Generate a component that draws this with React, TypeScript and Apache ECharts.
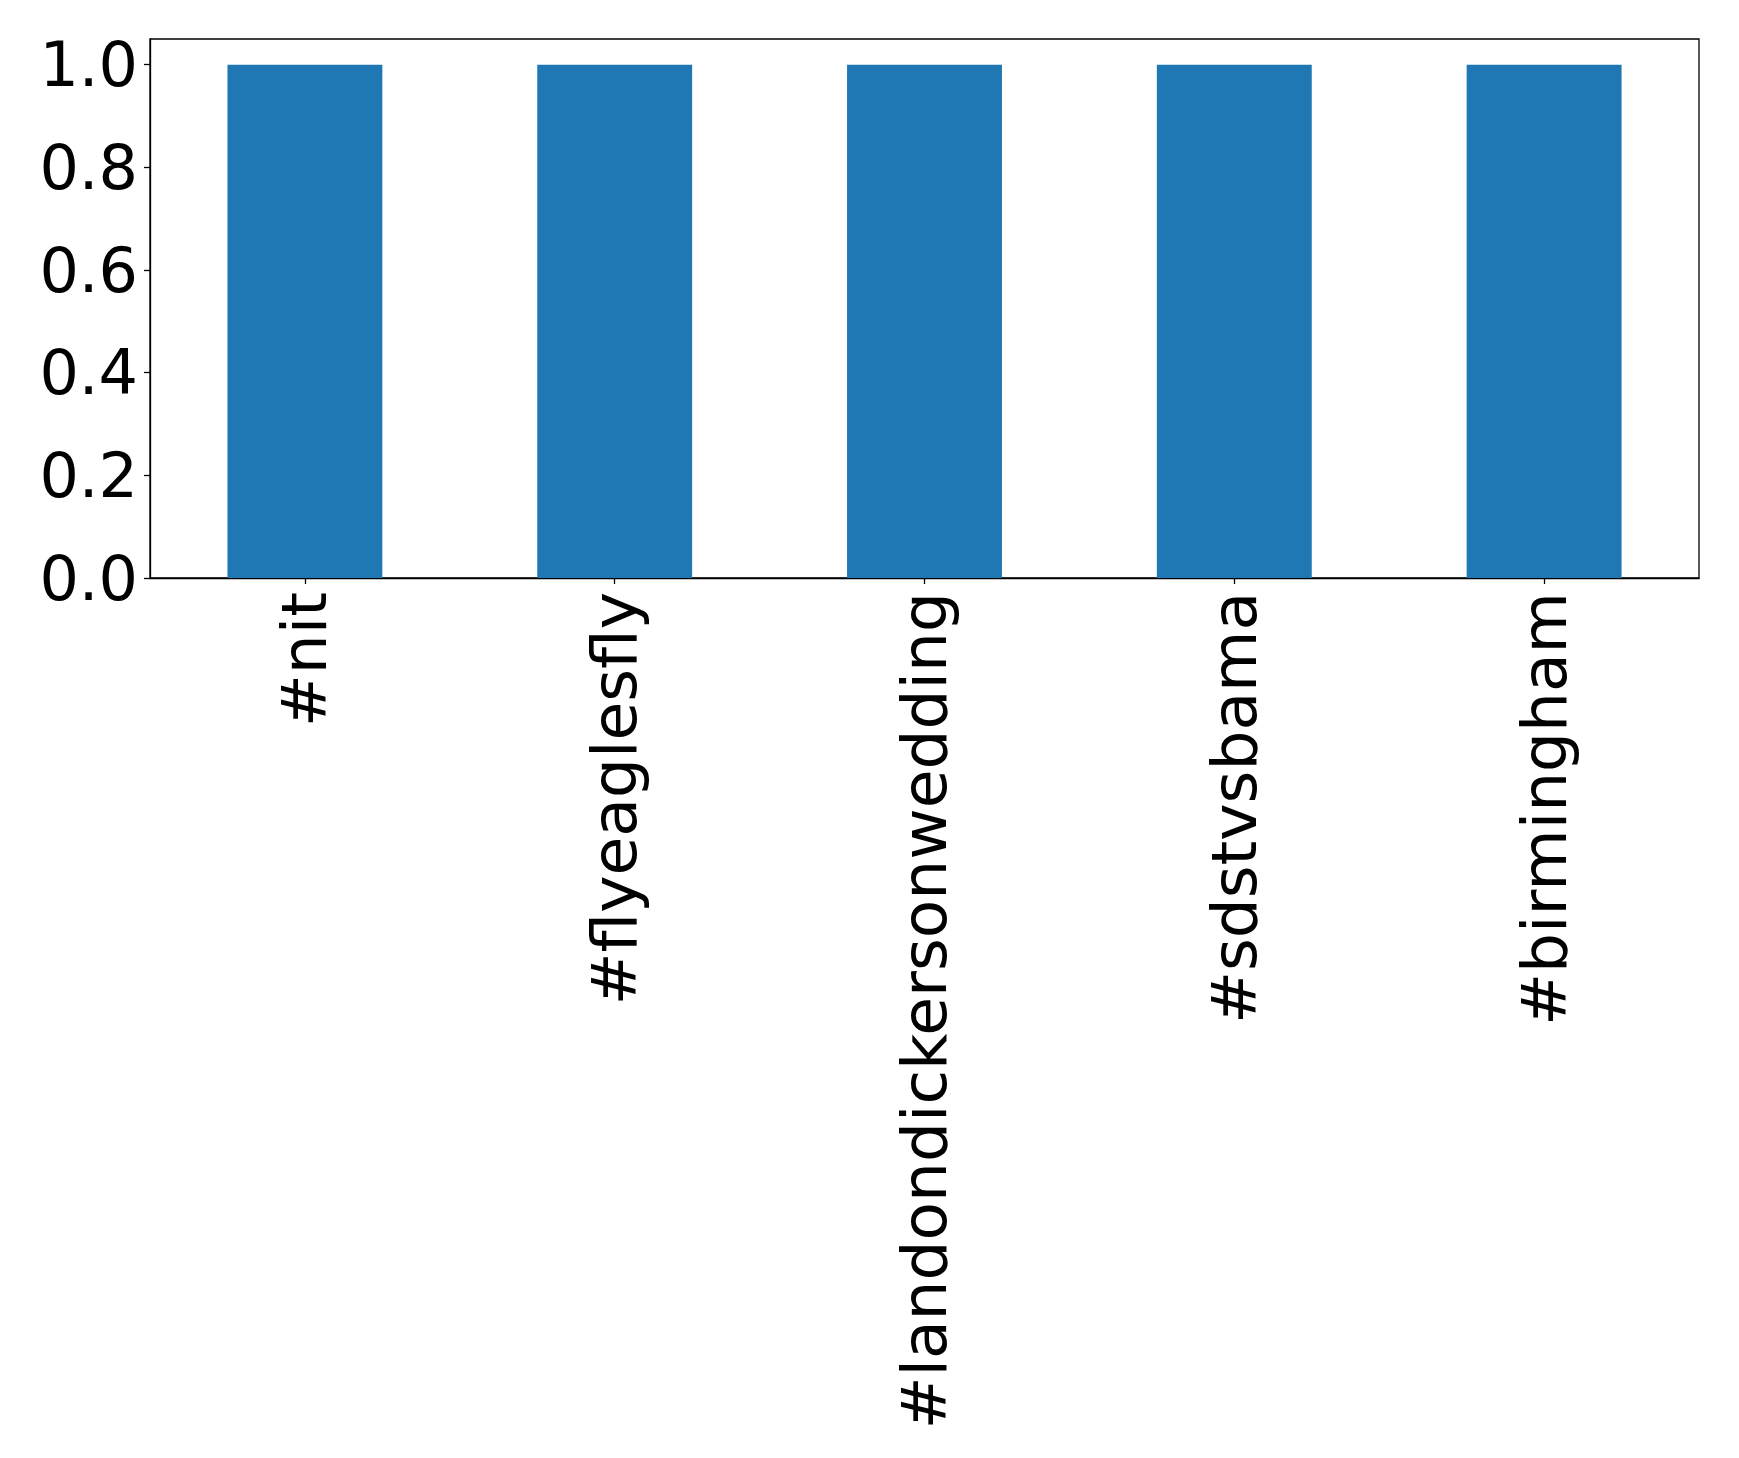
import React, { useEffect, useRef } from "react";
import * as echarts from "echarts";

const categories = ["#nit", "#flyeaglesfly", "#landondickersonwedding", "#sdstvsbama", "#birmingham"];
const values = [1, 1, 1, 1, 1];
const yTicks = [0, 0.2, 0.4, 0.6, 0.8, 1.0];

export default function App() {
  const ref = useRef<HTMLDivElement>(null);
  useEffect(() => {
    document.body.style.margin = "0";
    const chart = echarts.init(ref.current!, null, { renderer: "svg" });
    const font = "DejaVu Sans";
    chart.setOption({
      animation: false,
      backgroundColor: "#ffffff",
      grid: {
        left: 150,
        top: 39,
        right: 40,
        bottom: 880,
        show: true,
        borderColor: "#000000",
        borderWidth: 1.3,
        backgroundColor: "transparent",
      },
      xAxis: {
        type: "category",
        data: categories,
        boundaryGap: true,
        axisLine: { show: true, lineStyle: { color: "#000", width: 1.3 } },
        axisTick: { show: true, alignWithLabel: true, length: 6, lineStyle: { color: "#000", width: 1.3 } },
        axisLabel: {
          rotate: 90,
          interval: 0,
          margin: 14,
          fontSize: 63,
          fontFamily: font,
          color: "#000",
        },
        splitLine: { show: false },
      },
      yAxis: {
        type: "value",
        min: 0,
        max: 1.05,
        interval: 0.2,
        axisLine: { show: true, lineStyle: { color: "#000", width: 1.3 } },
        axisTick: { show: true, length: 6, lineStyle: { color: "#000", width: 1.3 }, customValues: yTicks },
        axisLabel: {
          margin: 12,
          fontSize: 62,
          fontFamily: font,
          color: "#000",
          customValues: yTicks,
          formatter: (v: number) => v.toFixed(1),
        },
        splitLine: { show: false },
      },
      series: [
        {
          type: "bar",
          data: values,
          barWidth: "50%",
          itemStyle: { color: "#1f77b4" },
        },
      ],
    });
    return () => chart.dispose();
  }, []);
  return <div ref={ref} style={{ position: "absolute", left: 0, top: 0, width: 1739, height: 1458 }} />;
}
